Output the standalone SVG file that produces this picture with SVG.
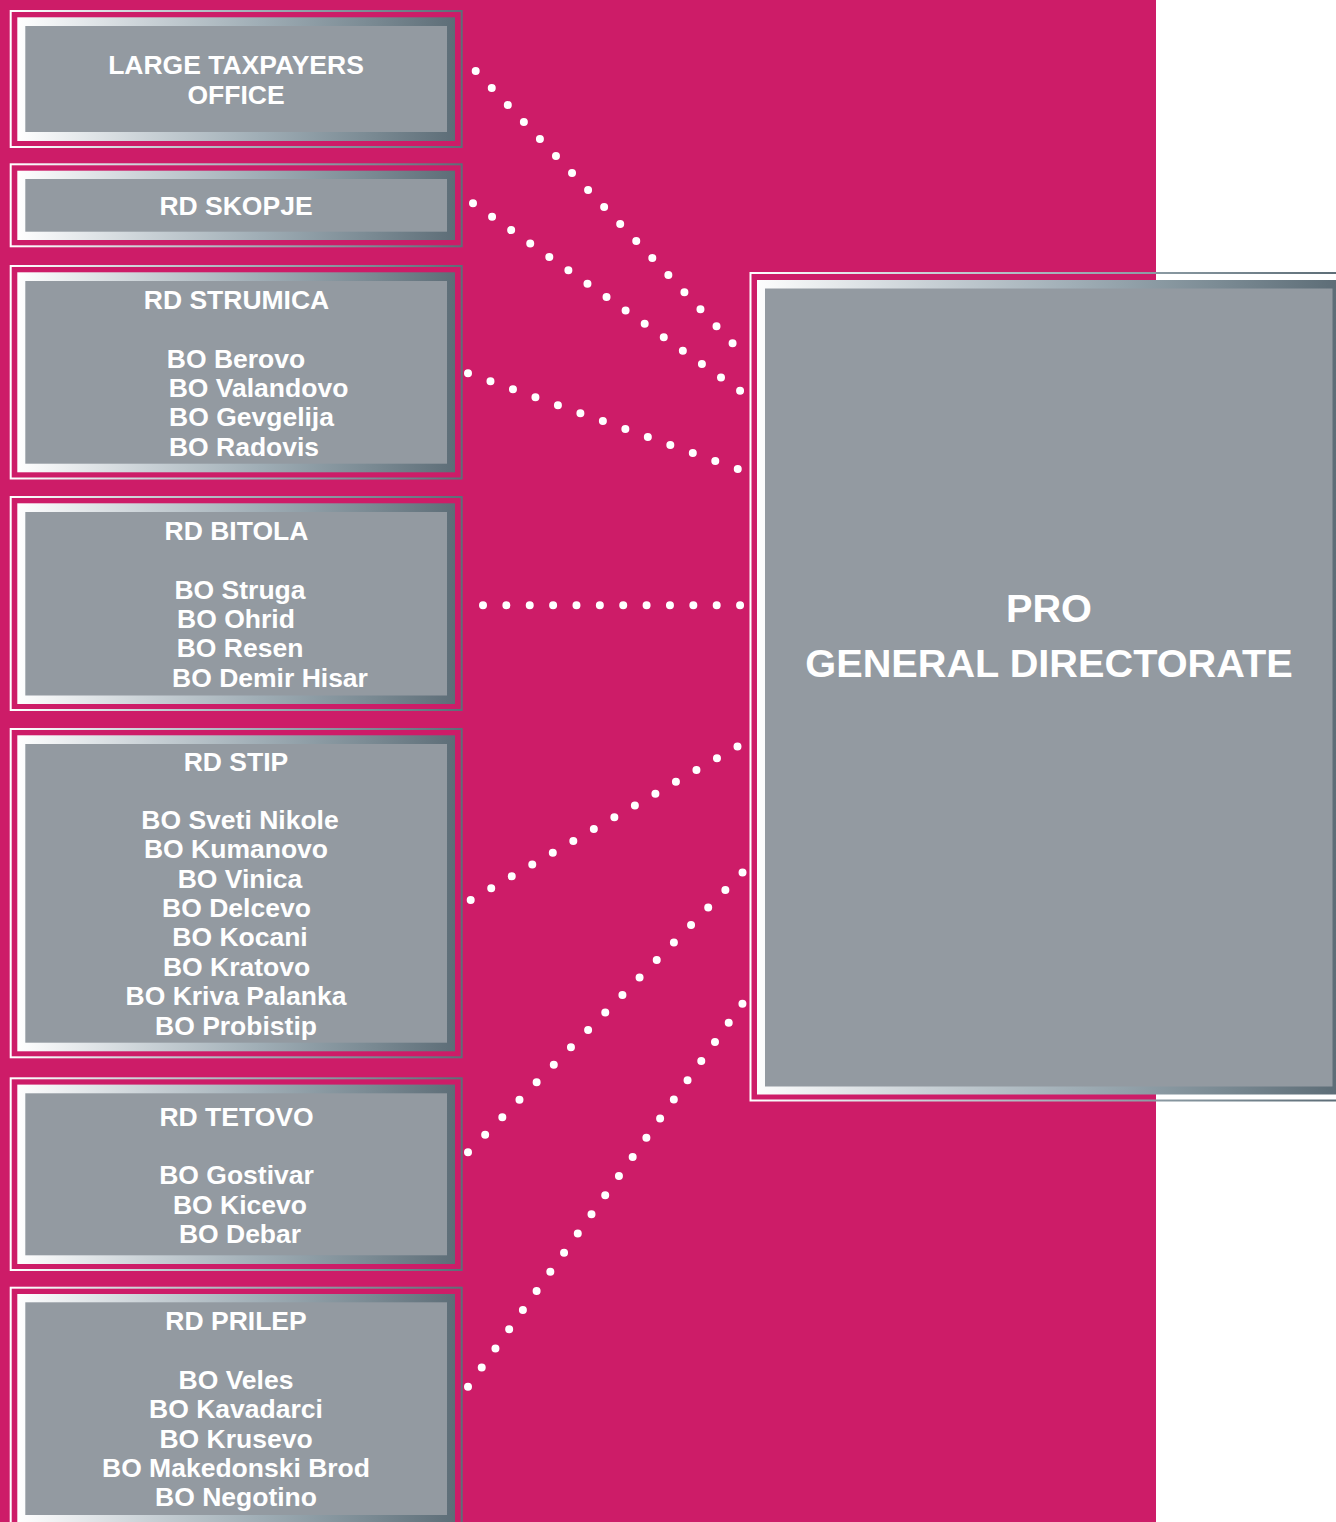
<svg xmlns="http://www.w3.org/2000/svg" width="1336" height="1522" viewBox="0 0 1336 1522">
<defs>
<linearGradient id="g" x1="0" y1="0" x2="1" y2="0">
<stop offset="0" stop-color="#ffffff"/>
<stop offset="0.3" stop-color="#c9d1d6"/>
<stop offset="0.55" stop-color="#a0aeb6"/>
<stop offset="0.8" stop-color="#7b8b94"/>
<stop offset="1" stop-color="#5d6d77"/>
</linearGradient>
<linearGradient id="gb" gradientUnits="userSpaceOnUse" x1="750" y1="0" x2="1336" y2="0">
<stop offset="0" stop-color="#ffffff"/>
<stop offset="0.3" stop-color="#c9d1d6"/>
<stop offset="0.55" stop-color="#a0aeb6"/>
<stop offset="0.8" stop-color="#7b8b94"/>
<stop offset="1" stop-color="#5d6d77"/>
</linearGradient>
<style>
.o{fill:none;stroke:url(#g);stroke-width:2}
.b{fill:url(#g)}
.f{fill:#939aa1}
.ob{fill:none;stroke:url(#gb);stroke-width:2}
.bb{fill:url(#gb)}
.t{font-family:"Liberation Sans",Arial,sans-serif;font-weight:bold;font-size:26.5px;fill:#ffffff;text-anchor:middle}
.tb{font-family:"Liberation Sans",Arial,sans-serif;font-weight:bold;font-size:39.7px;fill:#ffffff;text-anchor:middle}
.d{fill:none;stroke:#ffffff;stroke-width:8;stroke-linecap:round}
</style>
</defs>
<rect x="0" y="0" width="1336" height="1522" fill="#ffffff"/>
<rect x="0" y="0" width="1156" height="1522" fill="#cd1c68"/>

<g id="connectors">
<line class="d" x1="475.7" y1="71" x2="732.7" y2="343.3" stroke-dasharray="0 23.39"/>
<line class="d" x1="473" y1="203.3" x2="740.3" y2="391" stroke-dasharray="0 23.31"/>
<line class="d" x1="468" y1="373.3" x2="738" y2="469" stroke-dasharray="0 23.85"/>
<line class="d" x1="483" y1="605.3" x2="740.3" y2="605.3" stroke-dasharray="0 23.37"/>
<line class="d" x1="470.7" y1="900" x2="737.7" y2="746.3" stroke-dasharray="0 23.68"/>
<line class="d" x1="468" y1="1152.3" x2="742.7" y2="872.3" stroke-dasharray="0 24.50"/>
<line class="d" x1="468" y1="1386.7" x2="742.7" y2="1003.3" stroke-dasharray="0 23.56"/>
</g>

<g id="lto">
<rect class="o" x="10.7" y="11" width="451" height="136"/>
<rect class="b" x="17.3" y="17.3" width="437.7" height="123.7"/>
<rect class="f" x="25.3" y="26" width="421.7" height="106"/>
<text class="t" x="236" y="74">LARGE TAXPAYERS</text>
<text class="t" x="236" y="104">OFFICE</text>
</g>

<g id="rd-skopje">
<rect class="o" x="10.7" y="164.3" width="451" height="82"/>
<rect class="b" x="17.3" y="170.7" width="437.7" height="69.3"/>
<rect class="f" x="25.3" y="179" width="421.7" height="52.7"/>
<text class="t" x="236" y="215">RD SKOPJE</text>
</g>

<g id="rd-strumica">
<rect class="o" x="10.7" y="266" width="451" height="212.5"/>
<rect class="b" x="17.3" y="272.3" width="437.7" height="200"/>
<rect class="f" x="25.3" y="281" width="421.7" height="182.7"/>
<text class="t" x="236.5" y="309">RD STRUMICA</text>
<text class="t" x="236" y="368">BO Berovo</text>
<text class="t" x="258.5" y="397">BO Valandovo</text>
<text class="t" x="251.5" y="426">BO Gevgelija</text>
<text class="t" x="244" y="456">BO Radovis</text>
</g>

<g id="rd-bitola">
<rect class="o" x="10.7" y="497" width="451" height="213"/>
<rect class="b" x="17.3" y="503.3" width="437.7" height="200.7"/>
<rect class="f" x="25.3" y="512" width="421.7" height="183.5"/>
<text class="t" x="236.5" y="540">RD BITOLA</text>
<text class="t" x="240" y="599">BO Struga</text>
<text class="t" x="236" y="628">BO Ohrid</text>
<text class="t" x="240" y="657">BO Resen</text>
<text class="t" x="270" y="687">BO Demir Hisar</text>
</g>

<g id="rd-stip">
<rect class="o" x="10.7" y="729" width="451" height="328.3"/>
<rect class="b" x="17.3" y="735.3" width="437.7" height="316"/>
<rect class="f" x="25.3" y="744" width="421.7" height="298.7"/>
<text class="t" x="236" y="771">RD STIP</text>
<text class="t" x="240" y="829">BO Sveti Nikole</text>
<text class="t" x="236" y="858">BO Kumanovo</text>
<text class="t" x="240" y="888">BO Vinica</text>
<text class="t" x="236.5" y="917">BO Delcevo</text>
<text class="t" x="240" y="946">BO Kocani</text>
<text class="t" x="236.5" y="976">BO Kratovo</text>
<text class="t" x="236" y="1005">BO Kriva Palanka</text>
<text class="t" x="236" y="1035">BO Probistip</text>
</g>

<g id="rd-tetovo">
<rect class="o" x="10.7" y="1078.3" width="451" height="191.7"/>
<rect class="b" x="17.3" y="1084.6" width="437.7" height="179.4"/>
<rect class="f" x="25.3" y="1093.3" width="421.7" height="162"/>
<text class="t" x="236.5" y="1126">RD TETOVO</text>
<text class="t" x="236.5" y="1184">BO Gostivar</text>
<text class="t" x="240" y="1214">BO Kicevo</text>
<text class="t" x="240" y="1243">BO Debar</text>
</g>

<g id="rd-prilep">
<rect class="o" x="10.7" y="1287.7" width="451" height="242"/>
<rect class="b" x="17.3" y="1294" width="437.7" height="230"/>
<rect class="f" x="25.3" y="1302.3" width="421.7" height="212.7"/>
<text class="t" x="236" y="1330">RD PRILEP</text>
<text class="t" x="236" y="1389">BO Veles</text>
<text class="t" x="236" y="1418">BO Kavadarci</text>
<text class="t" x="236" y="1447.5">BO Krusevo</text>
<text class="t" x="236" y="1477">BO Makedonski Brod</text>
<text class="t" x="236" y="1506">BO Negotino</text>
</g>

<g id="pro-general-directorate">
<rect class="ob" x="750.5" y="273" width="620" height="827.5"/>
<rect class="bb" x="757" y="280" width="600" height="814.5"/>
<rect class="f" x="765" y="288.5" width="567.5" height="798"/>
<text class="tb" x="1049" y="622">PRO</text>
<text class="tb" x="1049" y="677">GENERAL DIRECTORATE</text>
</g>
</svg>
